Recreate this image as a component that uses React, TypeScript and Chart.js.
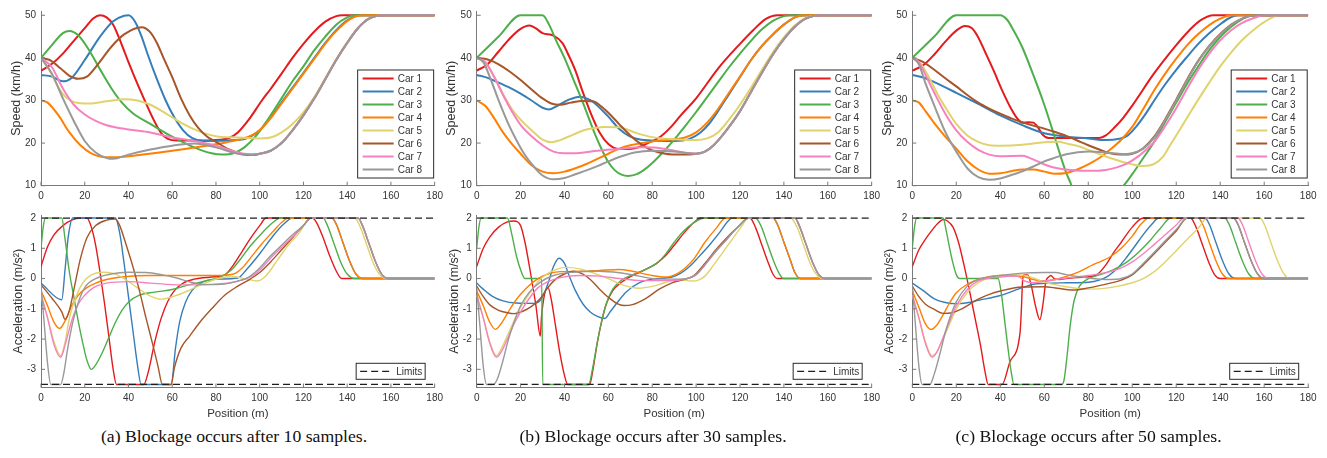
import React, { useEffect, useRef } from 'react';
import { Chart, registerables } from 'chart.js';

Chart.register(...registerables);

type Pt = [number, number];

// ---------- axes, labels ----------
const POSITION_TICKS = [0, 20, 40, 60, 80, 100, 120, 140, 160, 180];
const SPEED_TICKS = [10, 20, 30, 40, 50];
const ACCEL_TICKS = [-3, -2, -1, 0, 1, 2];
const CAR_NAMES = ['Car 1', 'Car 2', 'Car 3', 'Car 4', 'Car 5', 'Car 6', 'Car 7', 'Car 8'];
const CAR_COLORS = ['#e41a1c', '#377eb8', '#4daf4a', '#ff7f00', '#e0d36c', '#a65628', '#f781bf', '#999999'];
const ACCEL_UPPER_LIMIT: Pt[] = [[0, 2], [180, 2]];
const ACCEL_LOWER_LIMIT: Pt[] = [[0, -3.5], [180, -3.5]];
const CAPTIONS = [
  '(a) Blockage occurs after 10 samples.',
  '(b) Blockage occurs after 30 samples.',
  '(c) Blockage occurs after 50 samples.',
];

// ---------- (a) speed ----------
const A_SPEED_CAR1: Pt[] = [[0,37],[5,38.6],[10,41],[15,44],[20,47],[24,49.3],[27,50],[30,49.5],[33,47.8],[37,43],[40,39],[44,34],[47,30.5],[51,26],[55,22.3],[58,21],[62,20.6],[70,20.6],[82,20.8],[86,21.2],[90,22.5],[95,25.5],[101,30],[105,32.7],[110,36.3],[115,40],[120,43.3],[125,46.2],[130,48.5],[135,49.8],[138,50],[180,50]];
const A_SPEED_CAR2: Pt[] = [[0,36],[5,35.6],[10,34.5],[14,35.3],[20,39.5],[27,45],[33,48.6],[38,49.9],[40,50],[43,48.5],[46,45],[49,40.5],[53,35],[57,30],[61,26],[65,23],[69,21.2],[74,20.5],[90,20.7],[95,21.3],[100,23],[105,26],[110,29.5],[115,33],[120,36.5],[125,40],[130,43.5],[135,46.5],[140,48.8],[146,50],[180,50]];
const A_SPEED_CAR3: Pt[] = [[0,40],[5,43],[10,45.8],[13,46.3],[17,45.3],[22,41.8],[27,37.3],[32,33],[37,29.5],[42,27],[50,24.5],[60,21.5],[70,19],[78,17.6],[83,17.3],[88,17.6],[93,19],[98,21.5],[103,25],[110,30.5],[115,34.5],[120,38],[125,41.8],[130,45],[135,47.8],[140,49.5],[143,50],[180,50]];
const A_SPEED_CAR4: Pt[] = [[0,30],[3,29.5],[8,26.5],[13,22.5],[18,19.5],[23,17.6],[30,16.7],[35,16.7],[45,17.2],[60,18.2],[75,19.3],[85,20.2],[92,21],[97,22],[101,23.5],[106,26.5],[111,30],[116,33.5],[121,37],[126,40.5],[131,44],[136,46.8],[141,49],[147,50],[180,50]];
const A_SPEED_CAR5: Pt[] = [[0,40],[4,37],[8,33],[12,30.5],[17,29.4],[22,29.3],[30,29.8],[38,30.3],[44,30],[50,29],[57,27],[65,24.5],[72,22.8],[80,21.6],[90,21.3],[100,21.1],[105,21.3],[110,22.5],[115,24.5],[120,27.2],[125,30.8],[130,35.2],[135,39.7],[140,43.7],[145,47],[150,49.2],[156,50],[180,50]];
const A_SPEED_CAR6: Pt[] = [[0,40],[4,39.5],[9,37.5],[13,35.8],[17,35.1],[21,35.6],[26,38.5],[32,42.5],[38,45.5],[46,47.2],[50,46],[53,43.5],[56,40],[60,35.5],[64,30.5],[68,26.5],[72,23.5],[76,21.5],[80,20.3],[86,18.5],[92,17.4],[97,17.2],[100,17.5],[105,18.2],[110,20],[115,23],[120,26.5],[125,30.5],[130,35],[135,39.5],[140,43.5],[145,47],[150,49.2],[157,50],[180,50]];
const A_SPEED_CAR7: Pt[] = [[0,40],[5,37.8],[10,32.8],[15,29],[20,26.7],[25,25.2],[30,24.2],[40,23.2],[50,22.5],[60,21.3],[70,20.5],[80,19.4],[90,17.8],[97,17.3],[100,17.5],[105,18.2],[110,20],[115,23],[120,26.5],[125,30.5],[130,35],[135,39.5],[140,43.5],[145,47],[150,49.2],[157,50],[180,50]];
const A_SPEED_CAR8: Pt[] = [[0,40],[5,36.3],[10,30.5],[15,25.2],[20,20.5],[25,17.8],[30,16.5],[33,16.3],[40,17.3],[50,18.5],[60,19.4],[70,19.9],[80,19],[90,17.5],[97,17.3],[100,17.5],[105,18.2],[110,20],[115,23],[120,26.5],[125,30.5],[130,35],[135,39.5],[140,43.5],[145,47],[150,49.2],[157,50],[180,50]];

// ---------- (a) acceleration ----------
const A_ACCEL_CAR1: Pt[] = [[0,0.4],[3,1.05],[6,1.45],[10,1.75],[14,1.93],[18,2],[21,2],[23,1.7],[25,1.1],[27,0.2],[29,-0.8],[31,-1.9],[33,-3],[34.5,-3.5],[47,-3.5],[49,-3.1],[52,-2.1],[55,-1.3],[58,-0.75],[61,-0.4],[65,-0.15],[70,-0.02],[78,0.05],[84,0.12],[88,0.45],[92,0.9],[96,1.35],[100,1.75],[103,2],[124,2],[126,1.85],[129,1.35],[132,0.75],[135,0.25],[137.5,0],[180,0]];
const A_ACCEL_CAR2: Pt[] = [[0,-0.15],[9.5,-0.7],[11,0.3],[12.5,1.4],[14.5,2],[34,2],[36,1.5],[38,0.5],[40,-0.6],[42,-1.7],[44,-2.8],[45.8,-3.5],[59.5,-3.5],[61.5,-2.3],[63.5,-1.4],[66,-0.8],[69,-0.4],[73,-0.15],[80,-0.02],[90,0.02],[94,0.3],[100,0.82],[106,1.4],[111,1.8],[115,2],[133,2],[135,1.8],[138,1.2],[141,0.6],[144,0.15],[147,0],[180,0]];
const A_ACCEL_CAR3: Pt[] = [[0,1],[1,1.7],[2,2],[9.5,2],[11,1.3],[13,0.2],[15,-0.6],[17,-1.4],[19,-2.1],[21,-2.7],[23,-3],[25,-2.85],[28,-2.45],[31,-1.95],[34,-1.45],[37,-1.05],[40,-0.78],[45,-0.55],[52,-0.45],[60,-0.36],[68,-0.2],[75,-0.08],[82,0.05],[87,0.28],[91,0.62],[96,1.1],[101,1.5],[106,1.85],[109.5,2],[129,2],[131,1.75],[134,1.15],[137,0.55],[140,0.15],[143.5,0],[180,0]];
const A_ACCEL_CAR4: Pt[] = [[0,-0.4],[3,-0.9],[6,-1.45],[8.5,-1.65],[11,-1.4],[14,-0.9],[17,-0.55],[21,-0.3],[25,-0.15],[30,-0.03],[38,0.06],[50,0.1],[80,0.1],[88,0.15],[92,0.35],[96,0.7],[101,1.15],[106,1.55],[110,1.85],[113,2],[133,2],[135,1.8],[138,1.2],[141,0.6],[144,0.15],[147,0],[180,0]];
const A_ACCEL_CAR5: Pt[] = [[0,-0.6],[3,-1.3],[6,-2.1],[9,-2.55],[11,-2.1],[13,-1.3],[16,-0.6],[19,-0.15],[23,0.12],[28,0.21],[33,0.17],[38,0],[44,-0.3],[50,-0.58],[55,-0.68],[61,-0.58],[68,-0.38],[75,-0.15],[82,0.02],[88,0.06],[94,-0.02],[99,-0.08],[103,0.1],[108,0.6],[113,1.1],[118,1.5],[123,2],[143.5,2],[146,1.7],[149,1.1],[152,0.5],[155,0.12],[157.5,0],[180,0]];
const A_ACCEL_CAR6: Pt[] = [[0,-0.2],[5,-0.65],[9.5,-1.1],[11,-1.35],[13,-1.05],[15.5,-0.2],[18,0.65],[21,1.35],[25,1.75],[30,1.93],[34,1.97],[36,1.75],[39,1.1],[42,0.4],[45,-0.4],[48,-1.3],[51,-2.15],[53.5,-2.9],[55.5,-3.5],[59.5,-3.5],[61,-2.95],[64,-2.3],[68,-1.9],[72,-1.5],[78,-1],[84,-0.55],[90,-0.25],[96,0],[100,0.2],[105,0.55],[110,0.95],[115,1.35],[120,1.75],[123.5,2],[145,2],[147,1.75],[150,1.15],[153,0.55],[156,0.12],[159,0],[180,0]];
const A_ACCEL_CAR7: Pt[] = [[0,-0.5],[3,-1.3],[6,-2.2],[9,-2.6],[11,-2.2],[14,-1.4],[17,-0.85],[20,-0.55],[24,-0.3],[30,-0.15],[40,-0.1],[50,-0.15],[60,-0.2],[72,-0.21],[85,-0.15],[92,-0.05],[97,0.1],[101,0.35],[106,0.75],[111,1.1],[116,1.45],[120,1.75],[123.5,2],[145,2],[147,1.75],[150,1.15],[153,0.55],[156,0.12],[159,0],[180,0]];
const A_ACCEL_CAR8: Pt[] = [[0,-0.2],[1.5,-1.5],[3,-2.8],[4.5,-3.5],[9,-3.5],[10.5,-3.1],[12,-2.4],[14.5,-1.45],[17,-0.8],[20,-0.3],[25,0],[32,0.15],[40,0.21],[48,0.2],[55,0.13],[62,0.02],[69,-0.13],[75,-0.2],[84,-0.18],[90,-0.08],[95,0.05],[100,0.35],[105,0.75],[110,1.1],[115,1.45],[120,1.75],[123.5,2],[145,2],[147,1.75],[150,1.15],[153,0.55],[156,0.12],[159,0],[180,0]];

// ---------- (b) speed ----------
const B_SPEED_CAR1: Pt[] = [[0,37],[5,38.5],[10,41.5],[15,44.5],[20,46.8],[24,47.6],[27,46.9],[30,45.8],[35,45.2],[39,43.5],[42,40.5],[45,37],[48,32.5],[52,27],[56,22.5],[60,19.8],[65,18.6],[72,18.8],[78,20],[84,21.6],[88,23.5],[93,26.5],[100,30.5],[110,37.5],[120,43.3],[126,46.5],[132,49.2],[137,50],[180,50]];
const B_SPEED_CAR2: Pt[] = [[0,36],[5,35.3],[10,34.2],[15,33],[20,31.6],[25,30],[30,28.3],[33,27.9],[37,28.8],[42,30.2],[47,30.9],[52,30],[56,28.3],[60,26.2],[65,23.3],[70,21.5],[75,20.8],[90,20.5],[97,21],[102,22.5],[106,24.6],[110,27.5],[115,31.5],[120,35.5],[125,39.5],[130,42.8],[135,45.5],[140,47.8],[145,49.5],[149,50],[180,50]];
const B_SPEED_CAR3: Pt[] = [[0,40],[10,45],[20,50],[30,50],[33,47.8],[36,44.3],[40,40],[44,35],[48,30],[51,26],[54,22],[57,18.5],[60,15.5],[63,13.6],[66,12.6],[69,12.3],[73,12.7],[77,14],[81,15.8],[85,17.9],[90,20.8],[95,24],[100,27.3],[105,30.8],[110,34.3],[115,37.8],[120,41],[125,44],[130,46.7],[135,48.7],[140,49.8],[143,50],[180,50]];
const B_SPEED_CAR4: Pt[] = [[0,30],[4,28.7],[8,25.8],[12,22.5],[16,19.8],[20,17.5],[25,14.8],[30,13.3],[35,12.9],[40,13.3],[45,14.1],[50,15.1],[55,16.3],[60,17.5],[65,18.7],[70,19.5],[80,20.4],[90,20.9],[95,21.3],[100,22.5],[105,24.8],[110,28],[115,31.8],[120,35.6],[125,39.5],[130,42.8],[135,45.5],[140,47.8],[145,49.5],[149,50],[180,50]];
const B_SPEED_CAR5: Pt[] = [[0,40],[4,38.8],[8,35.5],[12,31.5],[16,28],[20,25.5],[25,23],[30,20.8],[34,20.2],[38,20.7],[44,22],[50,23.2],[58,23.8],[65,23.7],[72,22.5],[80,21.4],[90,20.9],[100,20.7],[105,21.1],[110,22.5],[115,25.5],[120,29],[125,33],[130,37.2],[135,41.3],[140,44.8],[145,47.6],[150,49.4],[156,50],[180,50]];
const B_SPEED_CAR6: Pt[] = [[0,40],[5,39.6],[10,38.5],[15,36.8],[20,34.8],[25,32.6],[30,30.5],[34,29.3],[38,29],[43,29.5],[48,29.9],[53,29.8],[57,28.5],[61,26.6],[65,24.4],[70,21.8],[75,19.7],[80,18.3],[86,17.5],[93,17.3],[100,17.5],[104,18],[108,19.5],[112,21.8],[116,24.5],[120,27.5],[125,32],[130,36.5],[135,40.8],[140,44.4],[145,47.3],[150,49.2],[157,50],[180,50]];
const B_SPEED_CAR7: Pt[] = [[0,40],[4,39],[8,35.5],[12,31.3],[16,27.5],[20,24.3],[25,21.6],[30,19.5],[35,18],[40,17.6],[47,17.7],[55,18.2],[65,18.6],[75,19],[82,18.9],[90,18.2],[96,17.6],[100,17.5],[104,18],[108,19.5],[112,21.8],[116,24.5],[120,27.5],[125,32],[130,36.5],[135,40.8],[140,44.4],[145,47.3],[150,49.2],[157,50],[180,50]];
const B_SPEED_CAR8: Pt[] = [[0,40],[3,39],[6,35.5],[10,30],[14,25],[18,20.8],[22,17.2],[26,14.5],[30,12.4],[35,11.5],[40,11.8],[45,12.7],[50,13.6],[55,14.6],[60,15.7],[66,16.9],[72,17.8],[80,18.2],[90,18],[100,17.5],[104,18],[108,19.5],[112,21.8],[116,24.5],[120,27.5],[125,32],[130,36.5],[135,40.8],[140,44.4],[145,47.3],[150,49.2],[157,50],[180,50]];

// ---------- (b) acceleration ----------
const B_ACCEL_CAR1: Pt[] = [[0,0.4],[3,1],[6,1.38],[10,1.7],[14,1.87],[17,1.9],[20,1.75],[22,1.2],[24.5,0.2],[27,-0.9],[29,-1.9],[29.5,-1.3],[31,-0.5],[32.5,-0.3],[34,-0.7],[36,-1.6],[38,-2.5],[40,-3.2],[41.5,-3.5],[51.5,-3.5],[53,-3],[55,-2.1],[57,-1.4],[59,-0.85],[62,-0.4],[66,-0.12],[71,0.1],[77,0.3],[82,0.5],[86,0.75],[90,1.1],[95,1.55],[99,1.85],[102,2],[124.5,2],[127,1.7],[130,1.1],[133,0.5],[135,0.15],[137,0],[180,0]];
const B_ACCEL_CAR2: Pt[] = [[0,-0.15],[3,-0.35],[7,-0.58],[12,-0.74],[18,-0.81],[26,-0.82],[29,-0.72],[31,-0.45],[33,-0.05],[35,0.4],[37.5,0.67],[40,0.5],[42,0.12],[45,-0.4],[48.5,-0.85],[52,-1.12],[55,-1.25],[58.4,-1.32],[61,-1.08],[64,-0.8],[68,-0.45],[74,-0.14],[80,-0.02],[89,0.05],[93,0.18],[97,0.4],[101,0.7],[106,1.1],[111,1.55],[114,1.85],[116.5,2],[135,2],[137,1.8],[140,1.2],[143,0.6],[145,0.2],[147.5,0],[180,0]];
const B_ACCEL_CAR3: Pt[] = [[0,1],[1,1.7],[2,2],[14,2],[16,1.46],[18.2,0.72],[20.5,0.19],[22,0],[29.6,0],[30.1,-3.5],[51,-3.5],[53,-2.9],[55,-2.1],[57,-1.4],[59,-0.85],[62,-0.35],[66,-0.05],[71,0.12],[77,0.3],[82,0.5],[86,0.8],[90,1.2],[94,1.55],[99,1.85],[104,2],[127,2],[129.5,1.75],[132.5,1.15],[135.5,0.55],[138,0.15],[140,0],[180,0]];
const B_ACCEL_CAR4: Pt[] = [[0,-0.4],[3,-0.9],[6,-1.45],[8.5,-1.68],[11,-1.5],[14,-1.15],[17,-0.8],[20,-0.52],[24,-0.22],[28,0],[32,0.14],[38,0.23],[47,0.24],[56,0.27],[65,0.3],[71,0.24],[80,0.1],[86,0.05],[91,0.15],[95,0.35],[99,0.65],[104,1.2],[109,1.65],[113.5,2],[135,2],[137,1.8],[140,1.2],[143,0.6],[145,0.2],[147.5,0],[180,0]];
const B_ACCEL_CAR5: Pt[] = [[0,-0.55],[3,-1.3],[6,-2.1],[9,-2.55],[11,-2.35],[14,-1.88],[17,-1.4],[20,-0.95],[24,-0.5],[28,-0.1],[32,0.15],[37,0.32],[41,0.37],[47,0.32],[53,0.19],[60,0],[66,-0.2],[74,-0.32],[80,-0.26],[86,-0.13],[92,-0.04],[98,-0.08],[101,-0.05],[104,0.08],[108,0.45],[112,0.85],[116,1.25],[120,1.65],[124,2],[143,2],[146,1.7],[149,1.1],[152,0.5],[155,0.12],[157.5,0],[180,0]];
const B_ACCEL_CAR6: Pt[] = [[0,-0.25],[3,-0.6],[6,-0.87],[10,-1.05],[14,-1.13],[17,-1.16],[21,-1.08],[25,-0.92],[29,-0.66],[32,-0.34],[36,-0.02],[40,0.15],[44,0.24],[48,0.16],[52,-0.05],[56,-0.35],[60,-0.62],[64,-0.83],[67,-0.89],[71,-0.86],[77,-0.66],[83,-0.36],[89,-0.14],[95,-0.02],[99,0.1],[104,0.5],[109,0.95],[114,1.35],[119,1.7],[124,2],[145,2],[147,1.75],[150,1.15],[153,0.55],[156,0.12],[159,0],[180,0]];
const B_ACCEL_CAR7: Pt[] = [[0,-0.55],[3,-1.3],[6,-2.15],[9,-2.6],[11,-2.45],[14,-2],[17,-1.5],[20,-1.1],[24,-0.65],[28,-0.3],[32,-0.12],[38,0.03],[47,0.1],[56,0.08],[65,0],[75,-0.07],[88,-0.07],[95,-0.02],[100,0.12],[104,0.45],[109,0.9],[114,1.3],[119,1.7],[124,2],[145,2],[147,1.75],[150,1.15],[153,0.55],[156,0.12],[159,0],[180,0]];
const B_ACCEL_CAR8: Pt[] = [[0,-0.3],[1.5,-1.6],[3,-2.9],[4.5,-3.5],[7.5,-3.5],[9.5,-3.3],[12,-2.7],[14.5,-2],[17,-1.45],[20,-0.9],[24,-0.45],[29,-0.12],[35,0.1],[44,0.21],[56,0.24],[65,0.19],[74,0.08],[83,-0.02],[92,-0.02],[99,0.08],[104,0.45],[109,0.9],[114,1.3],[119,1.7],[124,2],[145,2],[147,1.75],[150,1.15],[153,0.55],[156,0.12],[159,0],[180,0]];

// ---------- (c) speed ----------
const C_SPEED_CAR1: Pt[] = [[0,37],[5,38.3],[10,40.8],[15,43.8],[20,46.4],[24,47.5],[27,47],[30,44.8],[33,41.5],[37,37],[41,32.2],[45,28],[48,25.6],[50,24.8],[53,24.9],[55,24.8],[57,23.8],[59,22.1],[62,21.2],[70,21.2],[85,21.2],[88,21.8],[92,23.7],[96,26],[100,28.8],[110,36.4],[120,43],[126,46.5],[131,48.8],[137,50],[180,50]];
const C_SPEED_CAR2: Pt[] = [[0,36],[5,35.4],[10,34.3],[20,31.8],[30,29.2],[40,26.5],[50,24.2],[60,22.3],[70,21.5],[80,21.1],[88,20.7],[94,21],[98,21.8],[102,24],[106,26.8],[110,30],[115,33.8],[120,37.2],[125,40.3],[130,43.3],[135,45.8],[140,47.9],[144,49.3],[148,50],[180,50]];
const C_SPEED_CAR3: Pt[] = [[0,40],[10,45],[20,50],[40,50],[43,49],[46,46.5],[50,42.5],[55,36],[60,29],[65,21],[68,16],[70,13],[72.4,10],[74,7],[76,4],[80,4.5],[86,6.5],[92,8.5],[96,10],[100,12.7],[105,16.5],[110,20.3],[115,25],[120,29.5],[125,34],[130,38],[135,41.8],[140,44.9],[145,47.3],[150,49.1],[154,50],[180,50]];
const C_SPEED_CAR4: Pt[] = [[0,30],[3,29.5],[6,27.5],[10,24.7],[15,21.5],[20,18.7],[25,15.8],[30,13.8],[35,12.8],[40,12.9],[45,13.4],[50,13.8],[55,13.8],[60,13.3],[65,12.8],[70,13],[75,13.8],[80,15],[85,16.5],[90,18.5],[95,20.8],[100,23.8],[105,28],[110,32.4],[115,36.3],[120,39.8],[125,43],[130,45.6],[135,47.7],[140,49.2],[145,50],[180,50]];
const C_SPEED_CAR5: Pt[] = [[0,40],[4,38.5],[8,35],[12,31],[16,27.6],[20,24.5],[25,21.8],[30,20.3],[35,19.5],[40,19.4],[50,19.6],[60,20.2],[66,20.3],[71,19.8],[76,19.2],[80,18.4],[90,16.5],[100,15],[105,14.6],[110,15.1],[114,16.8],[117,19.3],[120,21.8],[125,26],[130,30.2],[135,34.2],[140,38],[145,41.3],[150,44.2],[155,46.5],[160,48.4],[167,50],[180,50]];
const C_SPEED_CAR6: Pt[] = [[0,40],[5,39],[10,37.2],[15,35.2],[20,33.3],[25,31.3],[30,29.5],[35,28.1],[40,26.9],[45,25.8],[50,24.9],[55,24.1],[60,23.4],[65,22.6],[70,21.7],[75,20.6],[80,19.5],[85,18.5],[90,17.6],[95,17.3],[100,17.5],[105,18.8],[110,21.5],[115,25.6],[120,30.2],[125,35],[130,39.3],[135,42.8],[140,45.6],[145,47.8],[150,49.2],[156,50],[180,50]];
const C_SPEED_CAR7: Pt[] = [[0,40],[3,39],[6,36],[10,31.8],[15,26.9],[20,23],[25,20.3],[30,18.4],[35,17.3],[40,16.9],[50,17],[53,16.6],[57,15.7],[61,14.8],[66,14.1],[72,13.7],[80,13.5],[88,13.7],[93,14.3],[98,15.3],[103,17],[107,18.8],[110,20.3],[115,24],[120,28.2],[125,32.8],[130,37.2],[135,41],[140,44.1],[145,46.5],[150,48.2],[155,49.3],[160,50],[180,50]];
const C_SPEED_CAR8: Pt[] = [[0,40],[3,38.5],[6,34],[10,28.8],[15,22.6],[20,18],[25,14.1],[30,12],[35,11.4],[40,11.7],[45,12.5],[50,13.4],[55,14.5],[60,15.7],[65,16.6],[70,17.4],[80,18],[90,17.7],[97,17.4],[100,17.6],[105,18.7],[110,21.3],[115,25.4],[120,30],[125,34.8],[130,39.2],[135,42.7],[140,45.5],[145,47.7],[150,49.2],[156,50],[180,50]];

// ---------- (c) acceleration ----------
const C_ACCEL_CAR1: Pt[] = [[0,0.4],[3,0.95],[6,1.3],[9,1.6],[12,1.85],[14,1.95],[16,1.9],[18.5,1.7],[21,1.2],[23.5,0.45],[26,-0.4],[28.5,-1.3],[31,-2.2],[33,-3.05],[34.5,-3.5],[40.8,-3.5],[44.5,-2.73],[49,-1.78],[49.6,-1],[50.2,0],[50.8,0.12],[52.5,0.12],[54,-0.2],[56,-0.9],[58,-1.36],[59.5,-0.8],[60.7,-0.1],[62,0.05],[63,0.1],[64.5,0],[67,-0.03],[72,0.02],[79,0.05],[84,0.13],[88,0.45],[91,0.8],[95,1.2],[100,1.7],[105,2],[126.5,2],[129,1.7],[132,1.1],[135,0.5],[137.5,0.12],[140,0],[180,0]];
const C_ACCEL_CAR2: Pt[] = [[0,-0.15],[5,-0.4],[10,-0.67],[15,-0.79],[20,-0.83],[25,-0.8],[30,-0.72],[40,-0.56],[50,-0.3],[55,-0.19],[60,-0.16],[70,-0.14],[80,-0.12],[85,-0.05],[89,0.08],[93,0.32],[97,0.66],[101,1.05],[105,1.45],[109,1.8],[112,2],[133,2],[135,1.8],[138,1.2],[141,0.6],[144,0.15],[147,0],[180,0]];
const C_ACCEL_CAR3: Pt[] = [[0,1],[1,1.7],[2,2],[14,2],[15.5,1.55],[17,1],[18.5,0.5],[20,0.13],[21.5,0],[39,0],[40.5,-0.5],[42,-1.4],[43.5,-2.3],[45,-3.1],[46.2,-3.5],[68,-3.5],[69,-3.35],[70.3,-2.6],[71.8,-1.55],[73.5,-0.75],[76,-0.25],[79.5,-0.03],[85,0.12],[91,0.28],[97,0.52],[103,0.88],[108,1.25],[113,1.68],[117.5,2],[142,2],[144,1.8],[147,1.2],[150,0.6],[153,0.15],[156,0],[180,0]];
const C_ACCEL_CAR4: Pt[] = [[0,-0.4],[3,-0.95],[6,-1.5],[8.5,-1.68],[11,-1.55],[14,-1.2],[17,-0.8],[20,-0.47],[25,-0.19],[30,-0.03],[40,0.1],[50,0.07],[55,-0.03],[60,-0.08],[65,-0.03],[70,0.07],[76,0.23],[82,0.45],[90,0.72],[95,1],[100,1.4],[104,1.8],[107.5,2],[130,2],[132,1.8],[135,1.2],[138,0.6],[141,0.15],[144,0],[180,0]];
const C_ACCEL_CAR5: Pt[] = [[0,-0.55],[3,-1.3],[6,-2.1],[9,-2.55],[11,-2.45],[14,-2],[17,-1.5],[20,-1],[25,-0.46],[30,-0.14],[35,0.02],[40,0.1],[46,0.13],[50,0.12],[55,0.02],[60,-0.12],[70,-0.27],[80,-0.35],[90,-0.3],[100,-0.14],[105,0],[110,0.23],[115,0.55],[120,0.92],[125,1.3],[130,1.66],[134,2],[158,2],[160,1.8],[163,1.2],[166,0.6],[169,0.15],[171.5,0],[180,0]];
const C_ACCEL_CAR6: Pt[] = [[0,-0.25],[3,-0.6],[6,-0.85],[10,-1.02],[14,-1.15],[18,-1.13],[22,-1.02],[26,-0.85],[30,-0.68],[35,-0.52],[40,-0.41],[50,-0.28],[60,-0.27],[66,-0.32],[73,-0.38],[80,-0.31],[90,-0.15],[95,-0.05],[100,0.12],[105,0.45],[110,0.82],[115,1.2],[120,1.57],[125,2],[146,2],[148,1.8],[151,1.2],[154,0.6],[157,0.15],[160,0],[180,0]];
const C_ACCEL_CAR7: Pt[] = [[0,-0.55],[3,-1.3],[6,-2.15],[9,-2.6],[11,-2.45],[14,-1.95],[17,-1.4],[20,-0.9],[25,-0.36],[30,-0.08],[40,0.05],[47,0.08],[49,0.04],[51,-0.08],[55,-0.14],[60,-0.08],[70,0.02],[80,0.1],[90,0.23],[95,0.35],[100,0.55],[105,0.82],[110,1.13],[115,1.45],[120,1.77],[123.5,2],[148,2],[150,1.8],[153,1.2],[156,0.6],[159,0.15],[162,0],[180,0]];
const C_ACCEL_CAR8: Pt[] = [[0,-0.2],[1.5,-1.6],[3,-2.9],[4.5,-3.5],[8,-3.5],[10,-3.15],[12.5,-2.5],[15.5,-1.65],[20,-0.77],[25,-0.25],[30,-0.03],[40,0.1],[50,0.18],[60,0.2],[65,0.2],[70,0.13],[80,0.02],[90,-0.03],[95,0],[100,0.15],[105,0.5],[110,0.87],[115,1.25],[120,1.62],[125,2],[146,2],[148,1.8],[151,1.2],[154,0.6],[157,0.15],[160,0],[180,0]];

const A_SPEED = [A_SPEED_CAR1, A_SPEED_CAR2, A_SPEED_CAR3, A_SPEED_CAR4, A_SPEED_CAR5, A_SPEED_CAR6, A_SPEED_CAR7, A_SPEED_CAR8];
const A_ACCEL = [A_ACCEL_CAR1, A_ACCEL_CAR2, A_ACCEL_CAR3, A_ACCEL_CAR4, A_ACCEL_CAR5, A_ACCEL_CAR6, A_ACCEL_CAR7, A_ACCEL_CAR8];
const B_SPEED = [B_SPEED_CAR1, B_SPEED_CAR2, B_SPEED_CAR3, B_SPEED_CAR4, B_SPEED_CAR5, B_SPEED_CAR6, B_SPEED_CAR7, B_SPEED_CAR8];
const B_ACCEL = [B_ACCEL_CAR1, B_ACCEL_CAR2, B_ACCEL_CAR3, B_ACCEL_CAR4, B_ACCEL_CAR5, B_ACCEL_CAR6, B_ACCEL_CAR7, B_ACCEL_CAR8];
const C_SPEED = [C_SPEED_CAR1, C_SPEED_CAR2, C_SPEED_CAR3, C_SPEED_CAR4, C_SPEED_CAR5, C_SPEED_CAR6, C_SPEED_CAR7, C_SPEED_CAR8];
const C_ACCEL = [C_ACCEL_CAR1, C_ACCEL_CAR2, C_ACCEL_CAR3, C_ACCEL_CAR4, C_ACCEL_CAR5, C_ACCEL_CAR6, C_ACCEL_CAR7, C_ACCEL_CAR8];

// ---------- layout / style ----------
const AXIS_COLOR = '#7a7a7a';
const TEXT_COLOR = '#333333';
const SANS = '"Liberation Sans", Arial, Helvetica, sans-serif';
const SERIF = '"Liberation Serif", "Times New Roman", Times, serif';

const COLUMNS = [
  { canvasLeft: 0, width: 448, axisLeft: 41, axisRight: 437, speedTitlePad: 9.2, accelTitlePad: 10.8, captionX: 234 },
  { canvasLeft: 440, width: 445, axisLeft: 476.7, axisRight: 872.2, speedTitlePad: 4.2, accelTitlePad: 7.5, captionX: 653 },
  { canvasLeft: 880, width: 447, axisLeft: 912.3, axisRight: 1308.2, speedTitlePad: 0, accelTitlePad: 2.5, captionX: 1088.5 },
];
const ROWS = {
  speed: { canvasTop: 0, height: 204, areaTop: 8, areaBottom: 185.7 },
  accel: { canvasTop: 204, height: 221, areaTop: 208, areaBottom: 387.5 },
};

const innerTicks = {
  id: 'innerTicks',
  afterDraw(chart: any) {
    const { ctx, chartArea, scales } = chart;
    const len = 4;
    ctx.save();
    ctx.strokeStyle = AXIS_COLOR;
    ctx.lineWidth = 1;
    ctx.beginPath();
    scales.x.ticks.forEach((t: any) => {
      const px = scales.x.getPixelForValue(t.value);
      ctx.moveTo(px, chartArea.bottom);
      ctx.lineTo(px, chartArea.bottom - len);
    });
    scales.y.ticks.forEach((t: any) => {
      const py = scales.y.getPixelForValue(t.value);
      ctx.moveTo(chartArea.left, py);
      ctx.lineTo(chartArea.left + len, py);
    });
    ctx.stroke();
    ctx.restore();
  },
};

const boxLegend = {
  id: 'boxLegend',
  afterDraw(chart: any, _args: any, opts: any) {
    if (!opts || !opts.display) return;
    const { ctx, chartArea } = chart;
    const items = chart.data.datasets.filter((d: any) => d.inLegend);
    const w = opts.width;
    const h = opts.rowHeight * items.length + opts.padY * 2;
    const x0 = chartArea.right - opts.rightInset - w;
    const y0 = opts.top;
    ctx.save();
    ctx.fillStyle = '#ffffff';
    ctx.fillRect(x0, y0, w, h);
    ctx.strokeStyle = '#2a2a2a';
    ctx.lineWidth = 1;
    ctx.strokeRect(x0, y0, w, h);
    items.forEach((d: any, i: number) => {
      const cy = y0 + opts.padY + opts.rowHeight * (i + 0.5);
      ctx.strokeStyle = d.borderColor;
      ctx.lineWidth = opts.lineWidth;
      ctx.setLineDash(d.borderDash || []);
      ctx.beginPath();
      ctx.moveTo(x0 + opts.lineStart, cy);
      ctx.lineTo(x0 + opts.lineEnd, cy);
      ctx.stroke();
      ctx.setLineDash([]);
      ctx.fillStyle = TEXT_COLOR;
      ctx.font = `10px ${SANS}`;
      ctx.textAlign = 'left';
      ctx.textBaseline = 'middle';
      ctx.fillText(d.legendText || d.label, x0 + opts.textStart, cy + 0.5);
    });
    ctx.restore();
  },
};

function Panel({ kind, series, col }: { kind: 'speed' | 'accel'; series: Pt[][]; col: typeof COLUMNS[number] }) {
  const ref = useRef<HTMLCanvasElement | null>(null);
  const row = ROWS[kind];
  useEffect(() => {
    const canvas = ref.current;
    if (!canvas) return;
    const isSpeed = kind === 'speed';
    const datasets: any[] = series.map((pts, i) => ({
      label: CAR_NAMES[i],
      data: pts.map(([x, y]) => ({ x, y })),
      borderColor: CAR_COLORS[i],
      backgroundColor: CAR_COLORS[i],
      borderWidth: isSpeed ? 2 : 1.4,
      pointRadius: 0,
      fill: false,
      cubicInterpolationMode: 'monotone',
      order: 10 - i,
      inLegend: isSpeed,
    }));
    if (!isSpeed) {
      datasets.push({
        label: 'Limits', legendText: 'Limits',
        data: ACCEL_UPPER_LIMIT.map(([x, y]) => ({ x, y })),
        borderColor: '#1e1e1e', borderWidth: 1.2, borderDash: [7, 4], pointRadius: 0, fill: false, order: 0, inLegend: true,
      });
      datasets.push({
        label: 'Limits lower',
        data: ACCEL_LOWER_LIMIT.map(([x, y]) => ({ x, y })),
        borderColor: '#1e1e1e', borderWidth: 1.2, borderDash: [7, 4], pointRadius: 0, fill: false, order: 0, inLegend: false,
      });
    }
    const yWidth = col.axisLeft - col.canvasLeft;
    const padRight = col.canvasLeft + col.width - col.axisRight;
    const padTop = row.areaTop - row.canvasTop;
    const xHeight = row.canvasTop + row.height - row.areaBottom;
    const tickFont = { family: SANS, size: 10 };
    const chart = new Chart(canvas, {
      type: 'line',
      data: { datasets },
      options: {
        animation: false,
        responsive: false,
        events: [],
        layout: { autoPadding: false, padding: { left: 0, right: padRight, top: padTop, bottom: 0 } },
        plugins: {
          legend: { display: false },
          tooltip: { enabled: false },
          boxLegend: isSpeed
            ? { display: true, top: 70 - row.canvasTop, width: 76, rightInset: 1, rowHeight: 13, padY: 2, lineStart: 5, lineEnd: 36, textStart: 40, lineWidth: 2 }
            : { display: true, top: 363.3 - row.canvasTop, width: 69, rightInset: 9.5, rowHeight: 12, padY: 2, lineStart: 4, lineEnd: 37, textStart: 40, lineWidth: 1.2 },
        } as any,
        scales: {
          x: {
            type: 'linear', min: 0, max: 180,
            afterFit: (s: any) => { s.height = xHeight; },
            afterBuildTicks: (s: any) => { s.ticks = POSITION_TICKS.map((v) => ({ value: v })); },
            grid: { display: false, drawTicks: false, drawOnChartArea: false },
            border: { display: true, color: AXIS_COLOR, width: 1 },
            ticks: { padding: 5, color: TEXT_COLOR, font: tickFont, maxRotation: 0, minRotation: 0, autoSkip: false, callback: (v: any) => String(v) },
            title: { display: !isSpeed, text: 'Position (m)', color: TEXT_COLOR, font: { family: SANS, size: 11.5 }, padding: { top: 0, bottom: 4.6 } },
          },
          y: {
            type: 'linear',
            min: isSpeed ? 10 : -3.6,
            max: isSpeed ? 51 : 2.1,
            afterFit: (s: any) => { s.width = yWidth; },
            afterBuildTicks: (s: any) => { s.ticks = (isSpeed ? SPEED_TICKS : ACCEL_TICKS).map((v) => ({ value: v })); },
            grid: { display: false, drawTicks: false, drawOnChartArea: false },
            border: { display: true, color: AXIS_COLOR, width: 1 },
            ticks: { padding: 5, color: TEXT_COLOR, font: tickFont, autoSkip: false, callback: (v: any) => String(v) },
            title: {
              display: true,
              text: isSpeed ? 'Speed (km/h)' : 'Acceleration (m/s²)',
              color: TEXT_COLOR,
              font: { family: SANS, size: 12.5 },
              padding: { top: isSpeed ? col.speedTitlePad : col.accelTitlePad, bottom: 0 },
            },
          },
        },
      } as any,
      plugins: [innerTicks, boxLegend] as any,
    });
    return () => chart.destroy();
  }, []);
  return (
    <canvas
      ref={ref}
      width={col.width}
      height={row.height}
      style={{ position: 'absolute', left: col.canvasLeft, top: row.canvasTop, width: col.width, height: row.height }}
    />
  );
}

export default function App() {
  const speedSets = [A_SPEED, B_SPEED, C_SPEED];
  const accelSets = [A_ACCEL, B_ACCEL, C_ACCEL];
  return (
    <div style={{ position: 'absolute', left: 0, top: 0, width: 1327, height: 458, background: '#ffffff', overflow: 'hidden' }}>
      {COLUMNS.map((col, i) => (
        <React.Fragment key={i}>
          <Panel kind="speed" series={speedSets[i]} col={col} />
          <Panel kind="accel" series={accelSets[i]} col={col} />
        </React.Fragment>
      ))}
      {CAPTIONS.map((text, i) => (
        <div
          key={text}
          style={{
            position: 'absolute', left: COLUMNS[i].captionX, top: 425.5, transform: 'translateX(-50%)',
            whiteSpace: 'nowrap', fontFamily: SERIF, fontSize: 17.7, lineHeight: '21px', color: '#111111',
          }}
        >
          {text}
        </div>
      ))}
    </div>
  );
}
